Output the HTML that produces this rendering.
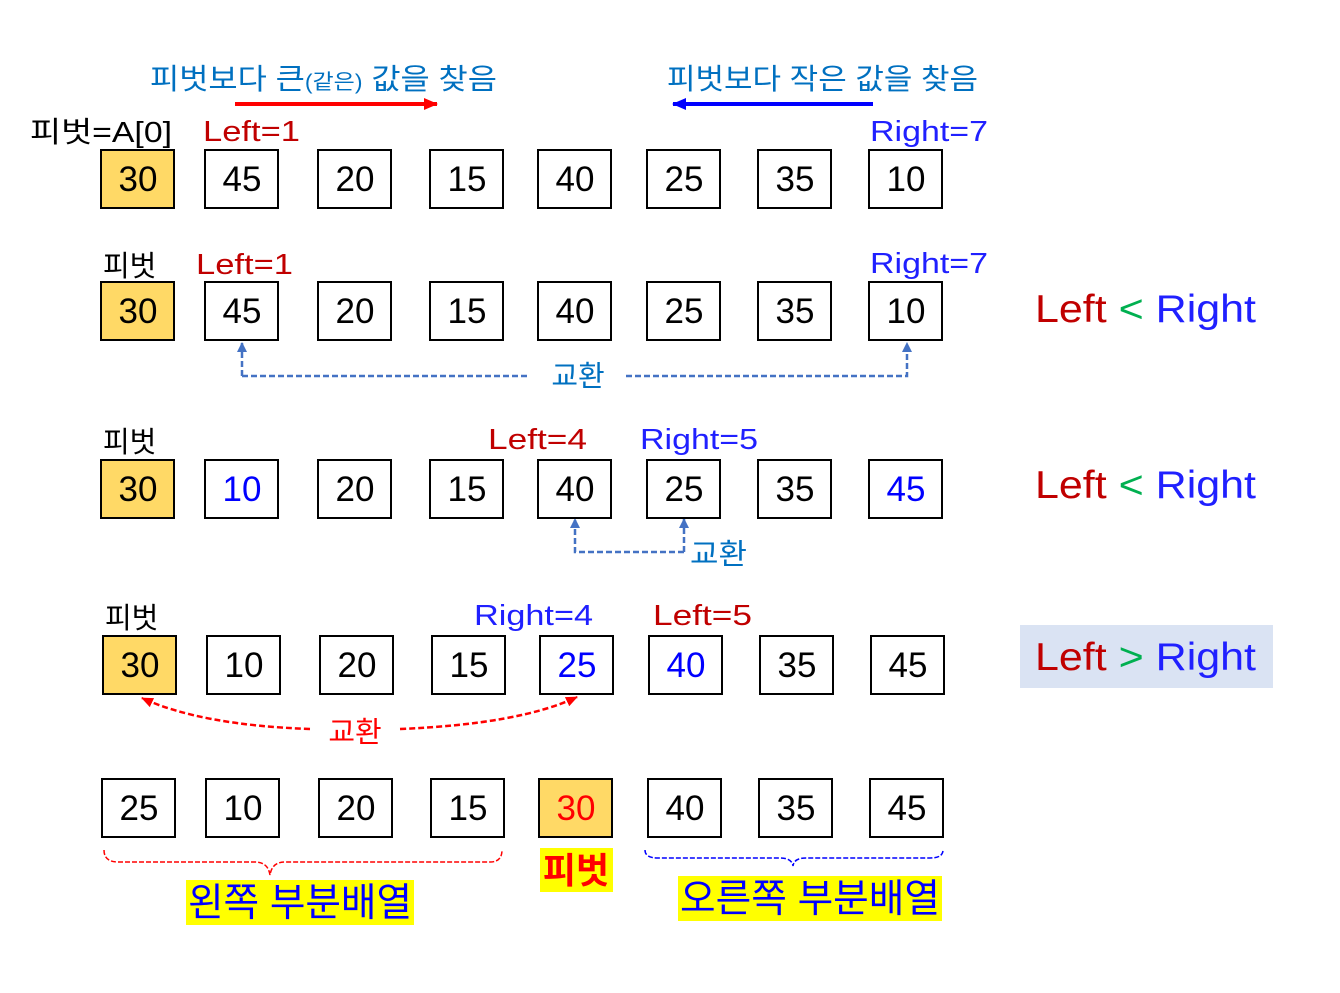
<!DOCTYPE html>
<html><head><meta charset="utf-8"><style>
html,body{margin:0;padding:0;background:#fff;}
svg{display:block;font-family:"Liberation Sans","Noto Sans CJK KR",sans-serif;}
</style></head><body>
<svg id="s" width="1340" height="993" viewBox="0 0 1340 993">
<defs>
<marker id="ab" markerWidth="14" markerHeight="12" refX="13" refY="6" orient="auto" markerUnits="userSpaceOnUse"><path d="M0,0 L14,6 L0,12 z" fill="#0000ff"/></marker>
<marker id="ar2" markerWidth="14" markerHeight="12" refX="13" refY="6" orient="auto" markerUnits="userSpaceOnUse"><path d="M0,0 L14,6 L0,12 z" fill="#ff0000"/></marker>
<marker id="sb" markerWidth="10" markerHeight="10" refX="9" refY="5" orient="auto" markerUnits="userSpaceOnUse"><path d="M0,0 L10,5 L0,10 z" fill="#4472c4"/></marker>
<marker id="sr" markerWidth="12" markerHeight="10" refX="11" refY="5" orient="auto" markerUnits="userSpaceOnUse"><path d="M0,0 L12,5 L0,10 z" fill="#ff0000"/></marker>
</defs>

<g>
<text x="150" y="89" font-size="29" fill="#0070c0" textLength="347" lengthAdjust="spacingAndGlyphs">피벗보다 큰<tspan font-size="21">(같은)</tspan> 값을 찾음</text>
<line x1="235" y1="104" x2="437" y2="104" stroke="#ff0000" stroke-width="4" marker-end="url(#ar2)"/>
<text x="667" y="89" font-size="29" fill="#0070c0" textLength="311" lengthAdjust="spacingAndGlyphs">피벗보다 작은 값을 찾음</text>
<line x1="873" y1="104" x2="673" y2="104" stroke="#0000ff" stroke-width="4" marker-end="url(#ab)"/>
</g>

<text x="30" y="142" font-size="29" fill="#000" textLength="142" lengthAdjust="spacingAndGlyphs">피벗=A[0]</text>
<text x="203" y="141" font-size="29" fill="#c00000" textLength="97" lengthAdjust="spacingAndGlyphs">Left=1</text>
<text x="870" y="141" font-size="29" fill="#2020ff" textLength="118" lengthAdjust="spacingAndGlyphs">Right=7</text>

<text x="103" y="276" font-size="29" fill="#000">피벗</text>
<text x="196" y="274" font-size="29" fill="#c00000" textLength="97" lengthAdjust="spacingAndGlyphs">Left=1</text>
<text x="870" y="273" font-size="29" fill="#2020ff" textLength="118" lengthAdjust="spacingAndGlyphs">Right=7</text>
<text x="1035" y="322" font-size="39" textLength="221" lengthAdjust="spacingAndGlyphs"><tspan fill="#c00000">Left</tspan><tspan fill="#00b050"> &lt; </tspan><tspan fill="#2020ff">Right</tspan></text>
<path d="M242,376 L242,343" stroke="#4472c4" stroke-width="2.5" stroke-dasharray="6,3" fill="none" marker-end="url(#sb)"/>
<path d="M242,376 L530,376 M626,376 L907,376 L907,343" stroke="#4472c4" stroke-width="2.5" stroke-dasharray="6,3" fill="none" marker-end="url(#sb)"/>
<text x="578" y="386" font-size="29" fill="#0070c0" text-anchor="middle">교환</text>

<text x="103" y="452" font-size="29" fill="#000">피벗</text>
<text x="488" y="449" font-size="29" fill="#c00000" textLength="99" lengthAdjust="spacingAndGlyphs">Left=4</text>
<text x="640" y="449" font-size="29" fill="#2020ff" textLength="118" lengthAdjust="spacingAndGlyphs">Right=5</text>
<text x="1035" y="498" font-size="39" textLength="221" lengthAdjust="spacingAndGlyphs"><tspan fill="#c00000">Left</tspan><tspan fill="#00b050"> &lt; </tspan><tspan fill="#2020ff">Right</tspan></text>
<path d="M684,552 L575,552 L575,519" stroke="#4472c4" stroke-width="2.5" stroke-dasharray="6,3" fill="none" marker-end="url(#sb)"/>
<path d="M684,552 L684,519" stroke="#4472c4" stroke-width="2.5" stroke-dasharray="6,3" fill="none" marker-end="url(#sb)"/>
<text x="690" y="564" font-size="29" fill="#0070c0" textLength="57" lengthAdjust="spacingAndGlyphs">교환</text>

<text x="105" y="628" font-size="29" fill="#000">피벗</text>
<text x="474" y="625" font-size="29" fill="#2020ff" textLength="119" lengthAdjust="spacingAndGlyphs">Right=4</text>
<text x="653" y="625" font-size="29" fill="#c00000" textLength="99" lengthAdjust="spacingAndGlyphs">Left=5</text>
<rect x="1020" y="625" width="253" height="63" fill="#dae3f3"/>
<text x="1035" y="670" font-size="39" textLength="221" lengthAdjust="spacingAndGlyphs"><tspan fill="#c00000">Left</tspan><tspan fill="#00b050"> &gt; </tspan><tspan fill="#2020ff">Right</tspan></text>
<path d="M310,729 Q200,725 142,698" stroke="#ff0000" stroke-width="2.5" stroke-dasharray="6,3" fill="none" marker-end="url(#sr)"/>
<path d="M400,729 Q520,724 577,697" stroke="#ff0000" stroke-width="2.5" stroke-dasharray="6,3" fill="none" marker-end="url(#sr)"/>
<text x="355" y="742" font-size="29" fill="#ff0000" text-anchor="middle">교환</text>

<path d="M104,850 Q104,862 118,862 L255,862 Q268,862 270,875 Q272,862 285,862 L490,862 Q502,862 502,850" stroke="#ff0000" stroke-width="1.5" stroke-dasharray="5,2" fill="none"/>
<path d="M645,850 Q645,858 658,858 L780,858 Q792,858 793,866 Q794,858 806,858 L930,858 Q943,858 943,850" stroke="#0000ff" stroke-width="1.5" stroke-dasharray="5,2" fill="none"/>
<rect x="540" y="848" width="73" height="44" fill="#ffff00"/>
<text x="576" y="883" font-size="36" font-weight="bold" fill="#ff0000" text-anchor="middle">피벗</text>
<rect x="186" y="880" width="228" height="45" fill="#ffff00"/>
<text x="188" y="916" font-size="39" fill="#0000ff" textLength="224" lengthAdjust="spacingAndGlyphs">왼쪽 부분배열</text>
<rect x="678" y="876" width="264" height="45" fill="#ffff00"/>
<text x="680" y="912" font-size="39" fill="#0000ff" textLength="260" lengthAdjust="spacingAndGlyphs">오른쪽 부분배열</text>
<g id="boxes"></g>
</svg>
<script>
const row1 = [30,45,20,15,40,25,35,10];
const row2 = [30,45,20,15,40,25,35,10];
const row3 = [30,10,20,15,40,25,35,45];
const row4 = [30,10,20,15,25,40,35,45];
const row5 = [25,10,20,15,30,40,35,45];
const rows = [
 {v:row1,y:150,dx:0,blue:[]},
 {v:row2,y:282,dx:0,blue:[]},
 {v:row3,y:460,dx:0,blue:[1,7]},
 {v:row4,y:636,dx:2,blue:[4,5]},
 {v:row5,y:779,dx:1,blue:[]}
];
const xs=[101,205,318,430,538,647,758,869];
const g=document.getElementById('boxes');
const NS='http://www.w3.org/2000/svg';
rows.forEach((r,ri)=>{
 r.v.forEach((val,i)=>{
  const pivotIdx = ri===4?4:0;
  const rc=document.createElementNS(NS,'rect');
  rc.setAttribute('x',xs[i]+r.dx);rc.setAttribute('y',r.y);
  rc.setAttribute('width',73);rc.setAttribute('height',58);
  rc.setAttribute('fill',i===pivotIdx?'#ffd966':'#fff');
  rc.setAttribute('stroke','#000');rc.setAttribute('stroke-width','2');
  
  
  g.appendChild(rc);
  const t=document.createElementNS(NS,'text');
  t.setAttribute('x',xs[i]+r.dx+37);t.setAttribute('y',r.y+41);
  t.setAttribute('text-anchor','middle');t.setAttribute('font-size','35');
  let c='#000';
  if(r.blue.includes(i)) c='#0000ff';
  if(ri===4&&i===4) c='#ff0000';
  t.setAttribute('fill',c);
  t.textContent=val;
  
  
  g.appendChild(t);
 });
});
</script>
</body></html>
